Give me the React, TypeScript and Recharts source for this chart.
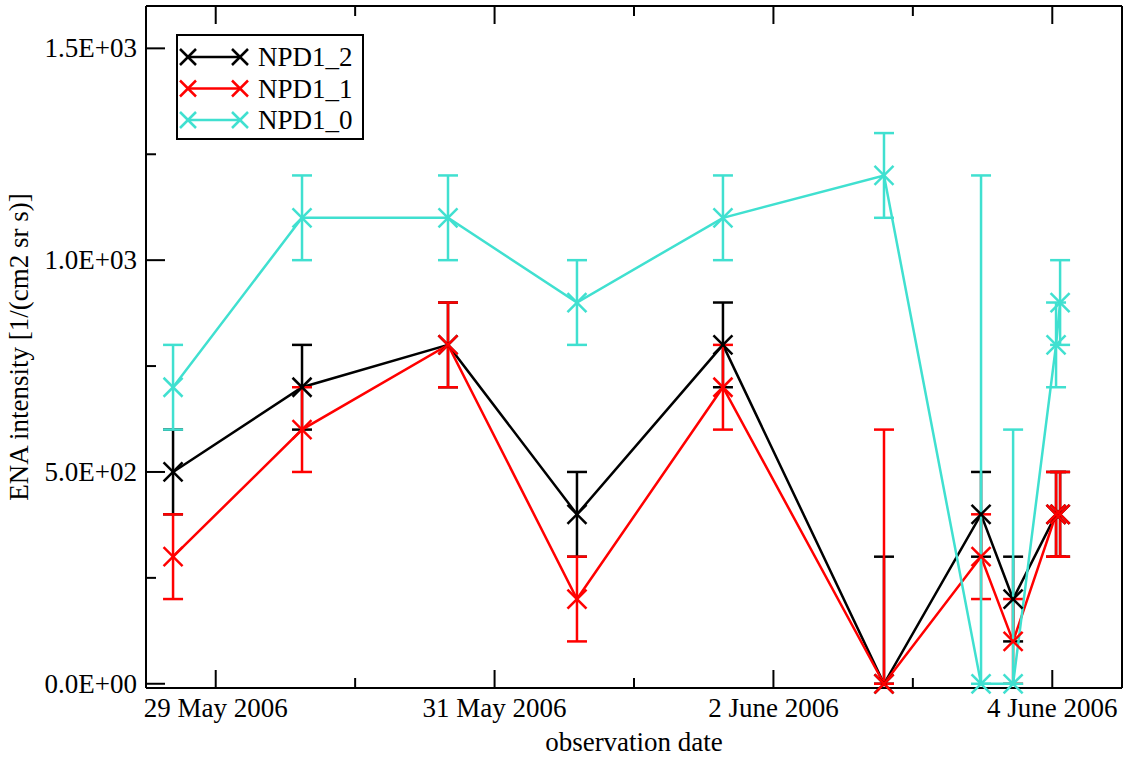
import { ErrorBar, Legend, Line, LineChart, XAxis, YAxis } from 'recharts'

// observation time, in days after 29 May 2006 00:00
const days = [-0.306, 0.619, 1.666, 2.591, 3.638, 4.793, 5.489, 5.719, 6.027, 6.056]

const npd2 = [500, 700, 800, 400, 800, 0, 400, 200, 400, 400]
const npd2Err = [100, 100, 100, 100, 100, 300, 100, 100, 100, 100]
const npd1 = [300, 600, 800, 200, 700, 0, 300, 100, 400, 400]
const npd1Err = [100, 100, 100, 100, 100, 600, 100, 100, 100, 100]
const npd0 = [700, 1100, 1100, 900, 1100, 1200, 0, 0, 800, 900]
const npd0Err = [100, 100, 100, 100, 100, 100, 1200, 600, 100, 100]

const xTicks = [0, 1, 2, 3, 4, 5, 6]
const xMajor = [0, 2, 4, 6]
const xLabels = ['29 May 2006', '31 May 2006', '2 June 2006', '4 June 2006']

const yTicks = [0, 250, 500, 750, 1000, 1250, 1500]
const yMajor = [0, 500, 1000, 1500]
const yLabels = ['0.0E+00', '5.0E+02', '1.0E+03', '1.5E+03']

const series = [
  { key: 'npd2', name: 'NPD1_2', color: '#000000' },
  { key: 'npd1', name: 'NPD1_1', color: '#ff0000' },
  { key: 'npd0', name: 'NPD1_0', color: '#40e0d0' },
]

// error bars are cut at zero, like the plot frame does
const range = (v: number, e: number) => [Math.min(e, v), e]

const rows = days.map((d, i) => ({
  x: d,
  npd2: npd2[i],
  npd2Err: range(npd2[i], npd2Err[i]),
  npd1: npd1[i],
  npd1Err: range(npd1[i], npd1Err[i]),
  npd0: npd0[i],
  npd0Err: range(npd0[i], npd0Err[i]),
}))

const FONT = 'Liberation Serif, Times New Roman, serif'
const SIZE = 27

function Cross({ cx, cy, color, r = 9.5 }: { cx: number; cy: number; color: string; r?: number }) {
  return (
    <g stroke={color} strokeWidth={2.5}>
      <line x1={cx - r} y1={cy - r} x2={cx + r} y2={cy + r} />
      <line x1={cx - r} y1={cy + r} x2={cx + r} y2={cy - r} />
    </g>
  )
}

function BottomTick(props: any) {
  const { x, y, payload } = props
  const idx = xMajor.indexOf(payload.value)
  const major = idx >= 0
  return (
    <g>
      <line x1={x} x2={x} y1={y} y2={y - (major ? 18 : 10)} stroke="#000" strokeWidth={2} />
      {major && (
        <text x={x} y={y + 29} textAnchor="middle" fontFamily={FONT} fontSize={SIZE} fill="#000">
          {xLabels[idx]}
        </text>
      )}
    </g>
  )
}

function TopTick(props: any) {
  const { x, y, payload } = props
  const major = xMajor.includes(payload.value)
  return <line x1={x} x2={x} y1={y} y2={y + (major ? 18 : 10)} stroke="#000" strokeWidth={2} />
}

function LeftTick(props: any) {
  const { x, y, payload } = props
  const idx = yMajor.indexOf(payload.value)
  const major = idx >= 0
  return (
    <g>
      <line x1={x} x2={x + (major ? 19 : 10)} y1={y} y2={y} stroke="#000" strokeWidth={2} />
      {major && (
        <text x={x - 9} y={y + 9} textAnchor="end" fontFamily={FONT} fontSize={SIZE} fill="#000">
          {yLabels[idx]}
        </text>
      )}
    </g>
  )
}

function RightTick(props: any) {
  const { x, y, payload } = props
  const major = yMajor.includes(payload.value)
  return <line x1={x} x2={x - (major ? 19 : 10)} y1={y} y2={y} stroke="#000" strokeWidth={2} />
}

function LegendBox() {
  return (
    <svg width={190} height={108} style={{ display: 'block' }}>
      <rect x={1} y={1} width={186} height={104} fill="#fff" stroke="#000" strokeWidth={2} />
      {series.map((s, i) => {
        const cy = 23 + i * 31.5
        return (
          <g key={s.key}>
            <line x1={12} x2={64} y1={cy} y2={cy} stroke={s.color} strokeWidth={2.5} />
            <Cross cx={12} cy={cy} color={s.color} r={8} />
            <Cross cx={64} cy={cy} color={s.color} r={8} />
            <text x={82} y={cy + 9} fontFamily={FONT} fontSize={SIZE} fill="#000">
              {s.name}
            </text>
          </g>
        )
      })}
    </svg>
  )
}

export default function App() {
  return (
    <div style={{ position: 'absolute', left: 0, top: 0, width: 1128, height: 757, background: '#fff' }}>
      <LineChart width={1128} height={757} data={rows} margin={{ top: 5, right: 5, bottom: 0, left: 0 }}>
        <XAxis
          dataKey="x"
          type="number"
          domain={[-0.5, 6.5]}
          ticks={xTicks}
          interval={0}
          height={69}
          tickSize={0}
          tickMargin={0}
          tickLine={false}
          tick={<BottomTick />}
          axisLine={{ stroke: '#000', strokeWidth: 2 }}
          label={{
            content: () => (
              <text x={634} y={751} textAnchor="middle" fontFamily={FONT} fontSize={SIZE} fill="#000">
                observation date
              </text>
            ),
          }}
        />
        <XAxis
          xAxisId="top"
          dataKey="x"
          type="number"
          orientation="top"
          domain={[-0.5, 6.5]}
          ticks={xTicks}
          interval={0}
          height={1}
          tickSize={0}
          tickMargin={0}
          tickLine={false}
          tick={<TopTick />}
          axisLine={{ stroke: '#000', strokeWidth: 2 }}
        />
        <YAxis
          type="number"
          domain={[-10, 1600]}
          ticks={yTicks}
          interval={0}
          width={146}
          tickSize={0}
          tickMargin={0}
          tickLine={false}
          tick={<LeftTick />}
          axisLine={{ stroke: '#000', strokeWidth: 2 }}
          label={{
            content: () => (
              <text
                x={28}
                y={347}
                transform="rotate(-90, 28, 347)"
                textAnchor="middle"
                fontFamily={FONT}
                fontSize={SIZE}
                fill="#000"
              >
                ENA intensity [1/(cm2 sr s)]
              </text>
            ),
          }}
        />
        <YAxis
          yAxisId="right"
          type="number"
          orientation="right"
          domain={[-10, 1600]}
          ticks={yTicks}
          interval={0}
          width={1}
          tickSize={0}
          tickMargin={0}
          tickLine={false}
          tick={<RightTick />}
          axisLine={{ stroke: '#000', strokeWidth: 2 }}
        />
        {series.map((s) => (
          <Line
            key={s.key}
            dataKey={s.key}
            name={s.name}
            type="linear"
            stroke={s.color}
            strokeWidth={2.5}
            isAnimationActive={false}
            activeDot={false}
            dot={(p: any) => <Cross key={`${s.key}-${p.index}`} cx={p.cx} cy={p.cy} color={s.color} />}
          >
            <ErrorBar
              dataKey={`${s.key}Err`}
              direction="y"
              width={10}
              stroke={s.color}
              strokeWidth={2.5}
              isAnimationActive={false}
            />
          </Line>
        ))}
        <Legend
          layout="vertical"
          align="center"
          verticalAlign="middle"
          content={() => <LegendBox />}
          wrapperStyle={{ left: 176, top: 34, width: 190, height: 108 }}
        />
      </LineChart>
    </div>
  )
}
